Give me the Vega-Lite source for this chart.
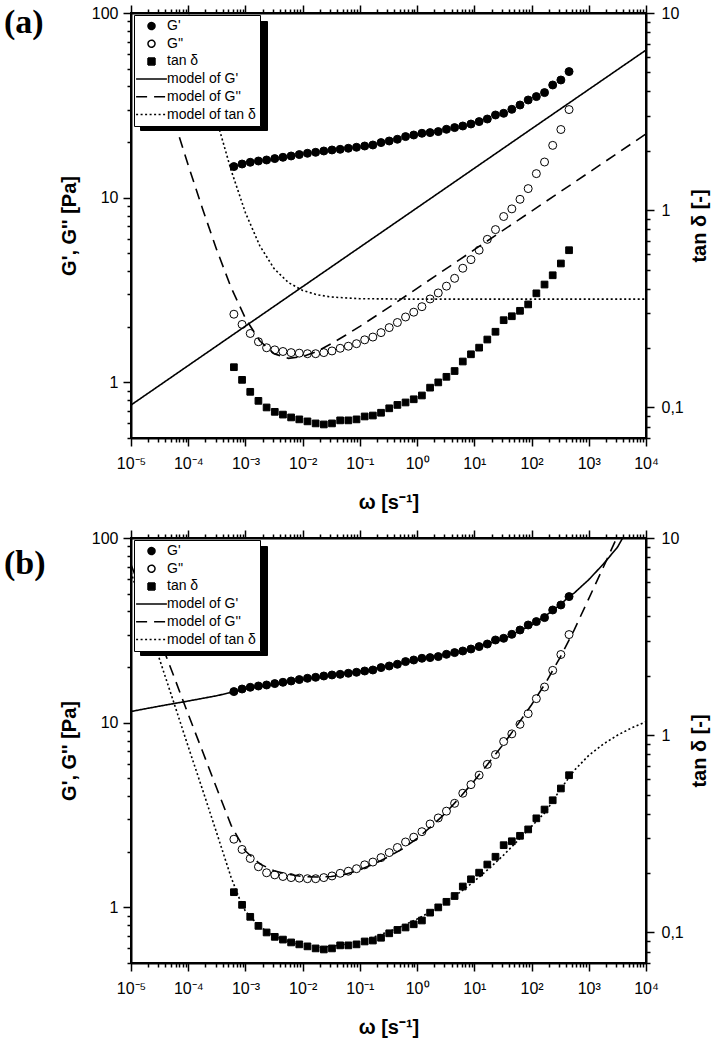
{
  "$schema": "https://vega.github.io/schema/vega-lite/v6.json",
  "padding": {"left": 3, "top": 3, "right": 0, "bottom": 0},
  "spacing": 15,
  "datasets": {
    "meas": [
      {"w": 0.0006283, "G1": 14.74, "G2": 2.34, "T": 0.160},
      {"w": 0.000873, "G1": 15.22, "G2": 2.06, "T": 0.138},
      {"w": 0.001213, "G1": 15.55, "G2": 1.84, "T": 0.120},
      {"w": 0.001686, "G1": 15.80, "G2": 1.66, "T": 0.108},
      {"w": 0.002342, "G1": 16.00, "G2": 1.54, "T": 0.100},
      {"w": 0.003255, "G1": 16.28, "G2": 1.50, "T": 0.095},
      {"w": 0.004522, "G1": 16.55, "G2": 1.47, "T": 0.092},
      {"w": 0.006283, "G1": 16.82, "G2": 1.45, "T": 0.089},
      {"w": 0.00873, "G1": 17.12, "G2": 1.44, "T": 0.087},
      {"w": 0.01213, "G1": 17.40, "G2": 1.43, "T": 0.085},
      {"w": 0.01686, "G1": 17.61, "G2": 1.43, "T": 0.083},
      {"w": 0.02342, "G1": 17.90, "G2": 1.45, "T": 0.082},
      {"w": 0.03255, "G1": 18.13, "G2": 1.48, "T": 0.083},
      {"w": 0.04522, "G1": 18.28, "G2": 1.53, "T": 0.086},
      {"w": 0.06283, "G1": 18.52, "G2": 1.57, "T": 0.086},
      {"w": 0.0873, "G1": 18.75, "G2": 1.62, "T": 0.087},
      {"w": 0.1213, "G1": 19.05, "G2": 1.70, "T": 0.090},
      {"w": 0.1686, "G1": 19.29, "G2": 1.76, "T": 0.091},
      {"w": 0.2342, "G1": 19.88, "G2": 1.86, "T": 0.094},
      {"w": 0.3255, "G1": 20.28, "G2": 1.98, "T": 0.099},
      {"w": 0.4522, "G1": 20.72, "G2": 2.11, "T": 0.103},
      {"w": 0.6283, "G1": 21.42, "G2": 2.26, "T": 0.106},
      {"w": 0.873, "G1": 21.85, "G2": 2.40, "T": 0.110},
      {"w": 1.213, "G1": 22.32, "G2": 2.57, "T": 0.115},
      {"w": 1.686, "G1": 22.51, "G2": 2.83, "T": 0.126},
      {"w": 2.342, "G1": 22.80, "G2": 3.05, "T": 0.134},
      {"w": 3.255, "G1": 23.46, "G2": 3.32, "T": 0.143},
      {"w": 4.522, "G1": 23.96, "G2": 3.66, "T": 0.153},
      {"w": 6.283, "G1": 24.45, "G2": 4.15, "T": 0.171},
      {"w": 8.73, "G1": 25.06, "G2": 4.62, "T": 0.186},
      {"w": 12.13, "G1": 25.82, "G2": 5.20, "T": 0.201},
      {"w": 16.86, "G1": 26.67, "G2": 5.95, "T": 0.221},
      {"w": 23.42, "G1": 28.04, "G2": 6.72, "T": 0.242},
      {"w": 32.55, "G1": 28.64, "G2": 7.91, "T": 0.277},
      {"w": 45.22, "G1": 30.10, "G2": 8.70, "T": 0.290},
      {"w": 62.83, "G1": 31.76, "G2": 9.80, "T": 0.309},
      {"w": 87.3, "G1": 33.81, "G2": 11.2, "T": 0.333},
      {"w": 121.3, "G1": 35.27, "G2": 13.5, "T": 0.379},
      {"w": 168.6, "G1": 37.07, "G2": 15.6, "T": 0.420},
      {"w": 234.2, "G1": 40.76, "G2": 19.2, "T": 0.468},
      {"w": 325.5, "G1": 43.38, "G2": 23.4, "T": 0.537},
      {"w": 452.2, "G1": 48.16, "G2": 30.0, "T": 0.627}
    ],
    "aMG1": [
      {"w": 0.00001, "v": 0.754}, {"w": 0.01, "v": 3.30}, {"w": 1, "v": 8.82}, {"w": 100, "v": 23.6}, {"w": 10000, "v": 63.0}
    ],
    "aMG2": [
      {"w": 0.00001, "v": 145.8}, {"w": 0.00001778, "v": 82.1}, {"w": 0.00003162, "v": 46.4}, {"w": 0.00005623, "v": 26.3},
      {"w": 0.0001, "v": 15.0}, {"w": 0.0001778, "v": 8.71}, {"w": 0.0003162, "v": 5.20}, {"w": 0.0005623, "v": 3.26},
      {"w": 0.001, "v": 2.22}, {"w": 0.001778, "v": 1.68}, {"w": 0.003162, "v": 1.43}, {"w": 0.005623, "v": 1.35},
      {"w": 0.01, "v": 1.38}, {"w": 0.01778, "v": 1.47}, {"w": 0.03162, "v": 1.62}, {"w": 0.05623, "v": 1.80},
      {"w": 0.1, "v": 2.01}, {"w": 0.3162, "v": 2.54}, {"w": 1, "v": 3.23}, {"w": 10, "v": 5.23},
      {"w": 100, "v": 8.46}, {"w": 1000, "v": 13.68}, {"w": 10000, "v": 22.14}
    ],
    "aMT": [
      {"w": 0.00007943, "v": 13.7}, {"w": 0.0001, "v": 10.44}, {"w": 0.0001259, "v": 7.98}, {"w": 0.0001778, "v": 5.37},
      {"w": 0.0003162, "v": 2.85}, {"w": 0.0005623, "v": 1.594}, {"w": 0.001, "v": 0.971}, {"w": 0.001778, "v": 0.661},
      {"w": 0.003162, "v": 0.506}, {"w": 0.005623, "v": 0.430}, {"w": 0.01, "v": 0.392}, {"w": 0.01778, "v": 0.373},
      {"w": 0.03162, "v": 0.363}, {"w": 0.1, "v": 0.356}, {"w": 1, "v": 0.354}, {"w": 10000, "v": 0.354}
    ],
    "bMG1": [
      {"w": 0.00001, "v": 11.5}, {"w": 0.00003162, "v": 12.3}, {"w": 0.0001, "v": 13.1}, {"w": 0.0003162, "v": 14.0},
      {"w": 0.001, "v": 15.2}, {"w": 0.003162, "v": 16.1}, {"w": 0.01, "v": 17.1}, {"w": 0.03162, "v": 18.0},
      {"w": 0.1, "v": 19.0}, {"w": 0.3162, "v": 20.3}, {"w": 1, "v": 21.9}, {"w": 3.162, "v": 23.4},
      {"w": 10, "v": 25.4}, {"w": 31.62, "v": 28.3}, {"w": 100, "v": 33.8}, {"w": 177.8, "v": 38.0},
      {"w": 316.2, "v": 43.5}, {"w": 446.7, "v": 48.0}, {"w": 562.3, "v": 50.5}, {"w": 1000, "v": 59.5},
      {"w": 1778, "v": 72.0}, {"w": 3162, "v": 89.0}, {"w": 3981, "v": 101.0}, {"w": 5623, "v": 122.0}, {"w": 10000, "v": 170.0}
    ],
    "bMG2": [
      {"w": 0.00001, "v": 71.9}, {"w": 0.00001778, "v": 45.1}, {"w": 0.00003162, "v": 28.3}, {"w": 0.00005623, "v": 17.8},
      {"w": 0.0001, "v": 11.1}, {"w": 0.0001778, "v": 7.0}, {"w": 0.0003162, "v": 4.4}, {"w": 0.0005623, "v": 2.78},
      {"w": 0.001, "v": 2.02}, {"w": 0.001778, "v": 1.72}, {"w": 0.003162, "v": 1.58}, {"w": 0.005623, "v": 1.51},
      {"w": 0.01, "v": 1.47}, {"w": 0.01778, "v": 1.46}, {"w": 0.03162, "v": 1.47}, {"w": 0.05623, "v": 1.51},
      {"w": 0.1, "v": 1.60}, {"w": 0.1778, "v": 1.72}, {"w": 0.3162, "v": 1.88}, {"w": 0.5623, "v": 2.08},
      {"w": 1, "v": 2.36}, {"w": 1.778, "v": 2.75}, {"w": 3.162, "v": 3.25}, {"w": 5.623, "v": 3.95},
      {"w": 10, "v": 4.85}, {"w": 17.78, "v": 6.05}, {"w": 31.62, "v": 7.6}, {"w": 56.23, "v": 9.7},
      {"w": 100, "v": 12.5}, {"w": 177.8, "v": 16.5}, {"w": 316.2, "v": 22.6}, {"w": 562.3, "v": 32.0},
      {"w": 1000, "v": 47.0}, {"w": 1778, "v": 69.0}, {"w": 3162, "v": 102.0}, {"w": 5623, "v": 150.0}
    ],
    "bMT": [
      {"w": 0.00001, "v": 6.7}, {"w": 0.00001778, "v": 4.03}, {"w": 0.00003162, "v": 2.42}, {"w": 0.00005623, "v": 1.46},
      {"w": 0.0001, "v": 0.875}, {"w": 0.0001778, "v": 0.53}, {"w": 0.0003162, "v": 0.318}, {"w": 0.0005623, "v": 0.19},
      {"w": 0.0007943, "v": 0.147}, {"w": 0.001, "v": 0.128}, {"w": 0.001778, "v": 0.107}, {"w": 0.003162, "v": 0.096},
      {"w": 0.005623, "v": 0.090}, {"w": 0.01, "v": 0.086}, {"w": 0.01778, "v": 0.084}, {"w": 0.03162, "v": 0.085},
      {"w": 0.05623, "v": 0.087}, {"w": 0.1, "v": 0.090}, {"w": 0.1778, "v": 0.095}, {"w": 0.3162, "v": 0.101},
      {"w": 0.5623, "v": 0.108}, {"w": 1, "v": 0.117}, {"w": 1.778, "v": 0.128}, {"w": 3.162, "v": 0.142},
      {"w": 5.623, "v": 0.160}, {"w": 10, "v": 0.182}, {"w": 17.78, "v": 0.21}, {"w": 31.62, "v": 0.245},
      {"w": 56.23, "v": 0.29}, {"w": 100, "v": 0.345}, {"w": 177.8, "v": 0.41}, {"w": 316.2, "v": 0.53},
      {"w": 562.3, "v": 0.665}, {"w": 1000, "v": 0.79}, {"w": 1778, "v": 0.9}, {"w": 3162, "v": 1.0},
      {"w": 5623, "v": 1.09}, {"w": 10000, "v": 1.17}
    ]
  },
  "resolve": {"scale": {"shape": "independent", "fill": "independent", "strokeDash": "independent", "stroke": "independent", "opacity": "independent"}},
  "vconcat": [
    {
      "title": {"text": "(a)", "anchor": "start", "frame": "group", "dx": -127, "dy": 36, "offset": 0, "font": "Liberation Serif", "fontSize": 34, "fontWeight": "bold", "color": "black"},
      "width": 515, "height": 425,
      "resolve": {"scale": {"y": "independent"}, "axis": {"x": "independent", "y": "independent"}},
      "layer": [
        {
          "data": {"name": "aMG1"},
          "mark": {"type": "line", "clip": true, "strokeWidth": 1.6},
          "encoding": {
            "x": {"field": "w", "type": "quantitative", "scale": {"type": "log", "domain": [0.00001, 10000], "nice": false},
                  "axis": {"orient": "top", "title": null, "labels": false, "tickCount": 20, "tickSize": {"condition": {"test": "abs(log(datum.value)/LN10-round(log(datum.value)/LN10))<0.001", "value": 8}, "value": 4}}},
            "y": {"field": "v", "type": "quantitative", "scale": {"type": "log", "domain": [0.5, 100], "nice": false}, "axis": null},
            "strokeDash": {"datum": "model of G'", "scale": {"domain": ["G'", "G''", "tan δ", "model of G'", "model of G''", "model of tan δ"], "range": [[1, 0], [1, 0], [1, 0], [1, 0], [11, 7], [2, 2.5]]},
                           "legend": {"title": null, "orient": "none", "legendX": 3, "legendY": 2, "zindex": 2, "fillColor": "white", "strokeColor": "black"}},
            "stroke": {"datum": "model of G'", "scale": {"domain": ["G'", "G''", "tan δ", "model of G'", "model of G''", "model of tan δ"], "range": ["black", "black", "black", "black", "black", "black"]},
                       "legend": {"title": null, "orient": "none", "legendX": 3, "legendY": 2, "zindex": 2, "fillColor": "white", "strokeColor": "black"}}
          }
        },
        {
          "data": {"name": "aMG2"},
          "mark": {"type": "line", "clip": true, "strokeWidth": 1.6},
          "encoding": {
            "x": {"field": "w", "type": "quantitative", "scale": {"type": "log", "domain": [0.00001, 10000], "nice": false}, "axis": null},
            "y": {"field": "v", "type": "quantitative", "scale": {"type": "log", "domain": [0.5, 100], "nice": false}, "axis": null},
            "strokeDash": {"datum": "model of G''", "scale": {"domain": ["G'", "G''", "tan δ", "model of G'", "model of G''", "model of tan δ"], "range": [[1, 0], [1, 0], [1, 0], [1, 0], [11, 7], [2, 2.5]]},
                           "legend": {"title": null, "orient": "none", "legendX": 3, "legendY": 2, "zindex": 2, "fillColor": "white", "strokeColor": "black"}},
            "stroke": {"datum": "model of G''", "scale": {"domain": ["G'", "G''", "tan δ", "model of G'", "model of G''", "model of tan δ"], "range": ["black", "black", "black", "black", "black", "black"]},
                       "legend": {"title": null, "orient": "none", "legendX": 3, "legendY": 2, "zindex": 2, "fillColor": "white", "strokeColor": "black"}}
          }
        },
        {
          "data": {"name": "aMT"},
          "mark": {"type": "line", "clip": true, "strokeWidth": 1.6},
          "encoding": {
            "x": {"field": "w", "type": "quantitative", "scale": {"type": "log", "domain": [0.00001, 10000], "nice": false}, "axis": null},
            "y": {"field": "v", "type": "quantitative", "scale": {"type": "log", "domain": [0.07, 10], "nice": false}, "axis": null},
            "strokeDash": {"datum": "model of tan δ", "scale": {"domain": ["G'", "G''", "tan δ", "model of G'", "model of G''", "model of tan δ"], "range": [[1, 0], [1, 0], [1, 0], [1, 0], [11, 7], [2, 2.5]]},
                           "legend": {"title": null, "orient": "none", "legendX": 3, "legendY": 2, "zindex": 2, "fillColor": "white", "strokeColor": "black"}},
            "stroke": {"datum": "model of tan δ", "scale": {"domain": ["G'", "G''", "tan δ", "model of G'", "model of G''", "model of tan δ"], "range": ["black", "black", "black", "black", "black", "black"]},
                       "legend": {"title": null, "orient": "none", "legendX": 3, "legendY": 2, "zindex": 2, "fillColor": "white", "strokeColor": "black"}}
          }
        },
        {
          "data": {"name": "meas"},
          "mark": {"type": "point", "filled": true, "size": 64, "strokeWidth": 1, "opacity": 1, "clip": true},
          "encoding": {
            "x": {"field": "w", "type": "quantitative", "scale": {"type": "log", "domain": [0.00001, 10000], "nice": false},
                  "axis": {"orient": "bottom", "title": "ω [s⁻¹]", "tickCount": 20, "labelPadding": 9, "titlePadding": 21,
                           "labelExpr": "abs(log(datum.value)/LN10-round(log(datum.value)/LN10))<0.001 ? '10' + ['⁻⁵','⁻⁴','⁻³','⁻²','⁻¹','⁰','¹','²','³','⁴'][round(log(datum.value)/LN10)+5] : ''",
                           "tickSize": {"condition": {"test": "abs(log(datum.value)/LN10-round(log(datum.value)/LN10))<0.001", "value": 8}, "value": 4}}},
            "y": {"field": "G1", "type": "quantitative", "scale": {"type": "log", "domain": [0.5, 100], "nice": false},
                  "axis": {"orient": "left", "title": "G', G'' [Pa]", "tickCount": 10, "labelPadding": 5, "titlePadding": 12,
                           "labelExpr": "abs(log(datum.value)/LN10-round(log(datum.value)/LN10))<0.001 ? format(datum.value, '~g') : ''",
                           "tickSize": {"condition": {"test": "abs(log(datum.value)/LN10-round(log(datum.value)/LN10))<0.001", "value": 8}, "value": 4}}},
            "shape": {"datum": "G'", "scale": {"domain": ["G'", "G''", "tan δ", "model of G'", "model of G''", "model of tan δ"], "range": ["circle", "circle", "square", "M-4.4,0H4.4", "M-4.4,0H4.4", "M-4.4,0H4.4"]},
                      "legend": {"title": null, "orient": "none", "legendX": 3, "legendY": 2, "zindex": 2, "fillColor": "white", "strokeColor": "black"}},
            "fill": {"datum": "G'", "scale": {"domain": ["G'", "G''", "tan δ", "model of G'", "model of G''", "model of tan δ"], "range": ["black", "transparent", "black", "transparent", "transparent", "transparent"]},
                     "legend": {"title": null, "orient": "none", "legendX": 3, "legendY": 2, "zindex": 2, "fillColor": "white", "strokeColor": "black"}},
            "stroke": {"datum": "G'", "scale": {"domain": ["G'", "G''", "tan δ", "model of G'", "model of G''", "model of tan δ"], "range": ["black", "black", "black", "black", "black", "black"]},
                       "legend": {"title": null, "orient": "none", "legendX": 3, "legendY": 2, "zindex": 2, "fillColor": "white", "strokeColor": "black"}},
            "opacity": {"datum": "G'", "scale": {"domain": ["model of tan δ", "model of G''", "model of G'", "tan δ", "G''", "G'"], "range": [1, 1, 1, 1, 1, 1]},
                        "legend": {"title": null, "orient": "none", "legendX": 9, "legendY": 8, "zindex": 1, "fillColor": "black", "strokeColor": "black",
                                   "labelExpr": "''", "labelFontSize": 1, "labelOffset": 0, "symbolOffset": 108, "rowPadding": 4.9,
                                   "symbolFillColor": "black", "symbolStrokeColor": "black"}}
          }
        },
        {
          "data": {"name": "meas"},
          "mark": {"type": "point", "filled": true, "size": 64, "strokeWidth": 1, "opacity": 1, "clip": true},
          "encoding": {
            "x": {"field": "w", "type": "quantitative", "scale": {"type": "log", "domain": [0.00001, 10000], "nice": false}, "axis": null},
            "y": {"field": "G2", "type": "quantitative", "scale": {"type": "log", "domain": [0.5, 100], "nice": false}, "axis": null},
            "shape": {"datum": "G''", "scale": {"domain": ["G'", "G''", "tan δ", "model of G'", "model of G''", "model of tan δ"], "range": ["circle", "circle", "square", "M-4.4,0H4.4", "M-4.4,0H4.4", "M-4.4,0H4.4"]},
                      "legend": {"title": null, "orient": "none", "legendX": 3, "legendY": 2, "zindex": 2, "fillColor": "white", "strokeColor": "black"}},
            "fill": {"datum": "G''", "scale": {"domain": ["G'", "G''", "tan δ", "model of G'", "model of G''", "model of tan δ"], "range": ["black", "transparent", "black", "transparent", "transparent", "transparent"]},
                     "legend": {"title": null, "orient": "none", "legendX": 3, "legendY": 2, "zindex": 2, "fillColor": "white", "strokeColor": "black"}},
            "stroke": {"datum": "G''", "scale": {"domain": ["G'", "G''", "tan δ", "model of G'", "model of G''", "model of tan δ"], "range": ["black", "black", "black", "black", "black", "black"]},
                       "legend": {"title": null, "orient": "none", "legendX": 3, "legendY": 2, "zindex": 2, "fillColor": "white", "strokeColor": "black"}}
          }
        },
        {
          "data": {"name": "meas"},
          "mark": {"type": "point", "filled": true, "size": 45, "strokeWidth": 1, "opacity": 1, "clip": true},
          "encoding": {
            "x": {"field": "w", "type": "quantitative", "scale": {"type": "log", "domain": [0.00001, 10000], "nice": false}, "axis": null},
            "y": {"field": "T", "type": "quantitative", "scale": {"type": "log", "domain": [0.07, 10], "nice": false},
                  "axis": {"orient": "right", "title": "tan δ [-]", "titleAngle": 270, "tickCount": 10, "labelPadding": 7, "titlePadding": 26,
                           "labelExpr": "abs(log(datum.value)/LN10-round(log(datum.value)/LN10))<0.001 ? replace(format(datum.value, '~g'), '.', ',') : ''",
                           "tickSize": {"condition": {"test": "abs(log(datum.value)/LN10-round(log(datum.value)/LN10))<0.001", "value": 8}, "value": 4}}},
            "shape": {"datum": "tan δ", "scale": {"domain": ["G'", "G''", "tan δ", "model of G'", "model of G''", "model of tan δ"], "range": ["circle", "circle", "square", "M-4.4,0H4.4", "M-4.4,0H4.4", "M-4.4,0H4.4"]},
                      "legend": {"title": null, "orient": "none", "legendX": 3, "legendY": 2, "zindex": 2, "fillColor": "white", "strokeColor": "black"}},
            "fill": {"datum": "tan δ", "scale": {"domain": ["G'", "G''", "tan δ", "model of G'", "model of G''", "model of tan δ"], "range": ["black", "transparent", "black", "transparent", "transparent", "transparent"]},
                     "legend": {"title": null, "orient": "none", "legendX": 3, "legendY": 2, "zindex": 2, "fillColor": "white", "strokeColor": "black"}},
            "stroke": {"datum": "tan δ", "scale": {"domain": ["G'", "G''", "tan δ", "model of G'", "model of G''", "model of tan δ"], "range": ["black", "black", "black", "black", "black", "black"]},
                       "legend": {"title": null, "orient": "none", "legendX": 3, "legendY": 2, "zindex": 2, "fillColor": "white", "strokeColor": "black"}}
          }
        }
      ]
    },
    {
      "title": {"text": "(b)", "anchor": "start", "frame": "group", "dx": -127, "dy": 52, "offset": 0, "font": "Liberation Serif", "fontSize": 34, "fontWeight": "bold", "color": "black"},
      "width": 515, "height": 425,
      "resolve": {"scale": {"y": "independent"}, "axis": {"x": "independent", "y": "independent"}},
      "layer": [
        {
          "data": {"name": "bMG1"},
          "mark": {"type": "line", "clip": true, "strokeWidth": 1.6},
          "encoding": {
            "x": {"field": "w", "type": "quantitative", "scale": {"type": "log", "domain": [0.00001, 10000], "nice": false},
                  "axis": {"orient": "top", "title": null, "labels": false, "tickCount": 20, "tickSize": {"condition": {"test": "abs(log(datum.value)/LN10-round(log(datum.value)/LN10))<0.001", "value": 8}, "value": 4}}},
            "y": {"field": "v", "type": "quantitative", "scale": {"type": "log", "domain": [0.5, 100], "nice": false}, "axis": null},
            "strokeDash": {"datum": "model of G'", "scale": {"domain": ["G'", "G''", "tan δ", "model of G'", "model of G''", "model of tan δ"], "range": [[1, 0], [1, 0], [1, 0], [1, 0], [11, 7], [2, 2.5]]},
                           "legend": {"title": null, "orient": "none", "legendX": 3, "legendY": 2, "zindex": 2, "fillColor": "white", "strokeColor": "black"}},
            "stroke": {"datum": "model of G'", "scale": {"domain": ["G'", "G''", "tan δ", "model of G'", "model of G''", "model of tan δ"], "range": ["black", "black", "black", "black", "black", "black"]},
                       "legend": {"title": null, "orient": "none", "legendX": 3, "legendY": 2, "zindex": 2, "fillColor": "white", "strokeColor": "black"}}
          }
        },
        {
          "data": {"name": "bMG2"},
          "mark": {"type": "line", "clip": true, "strokeWidth": 1.6},
          "encoding": {
            "x": {"field": "w", "type": "quantitative", "scale": {"type": "log", "domain": [0.00001, 10000], "nice": false}, "axis": null},
            "y": {"field": "v", "type": "quantitative", "scale": {"type": "log", "domain": [0.5, 100], "nice": false}, "axis": null},
            "strokeDash": {"datum": "model of G''", "scale": {"domain": ["G'", "G''", "tan δ", "model of G'", "model of G''", "model of tan δ"], "range": [[1, 0], [1, 0], [1, 0], [1, 0], [11, 7], [2, 2.5]]},
                           "legend": {"title": null, "orient": "none", "legendX": 3, "legendY": 2, "zindex": 2, "fillColor": "white", "strokeColor": "black"}},
            "stroke": {"datum": "model of G''", "scale": {"domain": ["G'", "G''", "tan δ", "model of G'", "model of G''", "model of tan δ"], "range": ["black", "black", "black", "black", "black", "black"]},
                       "legend": {"title": null, "orient": "none", "legendX": 3, "legendY": 2, "zindex": 2, "fillColor": "white", "strokeColor": "black"}}
          }
        },
        {
          "data": {"name": "bMT"},
          "mark": {"type": "line", "clip": true, "strokeWidth": 1.6},
          "encoding": {
            "x": {"field": "w", "type": "quantitative", "scale": {"type": "log", "domain": [0.00001, 10000], "nice": false}, "axis": null},
            "y": {"field": "v", "type": "quantitative", "scale": {"type": "log", "domain": [0.07, 10], "nice": false}, "axis": null},
            "strokeDash": {"datum": "model of tan δ", "scale": {"domain": ["G'", "G''", "tan δ", "model of G'", "model of G''", "model of tan δ"], "range": [[1, 0], [1, 0], [1, 0], [1, 0], [11, 7], [2, 2.5]]},
                           "legend": {"title": null, "orient": "none", "legendX": 3, "legendY": 2, "zindex": 2, "fillColor": "white", "strokeColor": "black"}},
            "stroke": {"datum": "model of tan δ", "scale": {"domain": ["G'", "G''", "tan δ", "model of G'", "model of G''", "model of tan δ"], "range": ["black", "black", "black", "black", "black", "black"]},
                       "legend": {"title": null, "orient": "none", "legendX": 3, "legendY": 2, "zindex": 2, "fillColor": "white", "strokeColor": "black"}}
          }
        },
        {
          "data": {"name": "meas"},
          "mark": {"type": "point", "filled": true, "size": 64, "strokeWidth": 1, "opacity": 1, "clip": true},
          "encoding": {
            "x": {"field": "w", "type": "quantitative", "scale": {"type": "log", "domain": [0.00001, 10000], "nice": false},
                  "axis": {"orient": "bottom", "title": "ω [s⁻¹]", "tickCount": 20, "labelPadding": 9, "titlePadding": 21,
                           "labelExpr": "abs(log(datum.value)/LN10-round(log(datum.value)/LN10))<0.001 ? '10' + ['⁻⁵','⁻⁴','⁻³','⁻²','⁻¹','⁰','¹','²','³','⁴'][round(log(datum.value)/LN10)+5] : ''",
                           "tickSize": {"condition": {"test": "abs(log(datum.value)/LN10-round(log(datum.value)/LN10))<0.001", "value": 8}, "value": 4}}},
            "y": {"field": "G1", "type": "quantitative", "scale": {"type": "log", "domain": [0.5, 100], "nice": false},
                  "axis": {"orient": "left", "title": "G', G'' [Pa]", "tickCount": 10, "labelPadding": 5, "titlePadding": 12,
                           "labelExpr": "abs(log(datum.value)/LN10-round(log(datum.value)/LN10))<0.001 ? format(datum.value, '~g') : ''",
                           "tickSize": {"condition": {"test": "abs(log(datum.value)/LN10-round(log(datum.value)/LN10))<0.001", "value": 8}, "value": 4}}},
            "shape": {"datum": "G'", "scale": {"domain": ["G'", "G''", "tan δ", "model of G'", "model of G''", "model of tan δ"], "range": ["circle", "circle", "square", "M-4.4,0H4.4", "M-4.4,0H4.4", "M-4.4,0H4.4"]},
                      "legend": {"title": null, "orient": "none", "legendX": 3, "legendY": 2, "zindex": 2, "fillColor": "white", "strokeColor": "black"}},
            "fill": {"datum": "G'", "scale": {"domain": ["G'", "G''", "tan δ", "model of G'", "model of G''", "model of tan δ"], "range": ["black", "transparent", "black", "transparent", "transparent", "transparent"]},
                     "legend": {"title": null, "orient": "none", "legendX": 3, "legendY": 2, "zindex": 2, "fillColor": "white", "strokeColor": "black"}},
            "stroke": {"datum": "G'", "scale": {"domain": ["G'", "G''", "tan δ", "model of G'", "model of G''", "model of tan δ"], "range": ["black", "black", "black", "black", "black", "black"]},
                       "legend": {"title": null, "orient": "none", "legendX": 3, "legendY": 2, "zindex": 2, "fillColor": "white", "strokeColor": "black"}},
            "opacity": {"datum": "G'", "scale": {"domain": ["model of tan δ", "model of G''", "model of G'", "tan δ", "G''", "G'"], "range": [1, 1, 1, 1, 1, 1]},
                        "legend": {"title": null, "orient": "none", "legendX": 9, "legendY": 8, "zindex": 1, "fillColor": "black", "strokeColor": "black",
                                   "labelExpr": "''", "labelFontSize": 1, "labelOffset": 0, "symbolOffset": 108, "rowPadding": 4.9,
                                   "symbolFillColor": "black", "symbolStrokeColor": "black"}}
          }
        },
        {
          "data": {"name": "meas"},
          "mark": {"type": "point", "filled": true, "size": 64, "strokeWidth": 1, "opacity": 1, "clip": true},
          "encoding": {
            "x": {"field": "w", "type": "quantitative", "scale": {"type": "log", "domain": [0.00001, 10000], "nice": false}, "axis": null},
            "y": {"field": "G2", "type": "quantitative", "scale": {"type": "log", "domain": [0.5, 100], "nice": false}, "axis": null},
            "shape": {"datum": "G''", "scale": {"domain": ["G'", "G''", "tan δ", "model of G'", "model of G''", "model of tan δ"], "range": ["circle", "circle", "square", "M-4.4,0H4.4", "M-4.4,0H4.4", "M-4.4,0H4.4"]},
                      "legend": {"title": null, "orient": "none", "legendX": 3, "legendY": 2, "zindex": 2, "fillColor": "white", "strokeColor": "black"}},
            "fill": {"datum": "G''", "scale": {"domain": ["G'", "G''", "tan δ", "model of G'", "model of G''", "model of tan δ"], "range": ["black", "transparent", "black", "transparent", "transparent", "transparent"]},
                     "legend": {"title": null, "orient": "none", "legendX": 3, "legendY": 2, "zindex": 2, "fillColor": "white", "strokeColor": "black"}},
            "stroke": {"datum": "G''", "scale": {"domain": ["G'", "G''", "tan δ", "model of G'", "model of G''", "model of tan δ"], "range": ["black", "black", "black", "black", "black", "black"]},
                       "legend": {"title": null, "orient": "none", "legendX": 3, "legendY": 2, "zindex": 2, "fillColor": "white", "strokeColor": "black"}}
          }
        },
        {
          "data": {"name": "meas"},
          "mark": {"type": "point", "filled": true, "size": 45, "strokeWidth": 1, "opacity": 1, "clip": true},
          "encoding": {
            "x": {"field": "w", "type": "quantitative", "scale": {"type": "log", "domain": [0.00001, 10000], "nice": false}, "axis": null},
            "y": {"field": "T", "type": "quantitative", "scale": {"type": "log", "domain": [0.07, 10], "nice": false},
                  "axis": {"orient": "right", "title": "tan δ [-]", "titleAngle": 270, "tickCount": 10, "labelPadding": 7, "titlePadding": 26,
                           "labelExpr": "abs(log(datum.value)/LN10-round(log(datum.value)/LN10))<0.001 ? replace(format(datum.value, '~g'), '.', ',') : ''",
                           "tickSize": {"condition": {"test": "abs(log(datum.value)/LN10-round(log(datum.value)/LN10))<0.001", "value": 8}, "value": 4}}},
            "shape": {"datum": "tan δ", "scale": {"domain": ["G'", "G''", "tan δ", "model of G'", "model of G''", "model of tan δ"], "range": ["circle", "circle", "square", "M-4.4,0H4.4", "M-4.4,0H4.4", "M-4.4,0H4.4"]},
                      "legend": {"title": null, "orient": "none", "legendX": 3, "legendY": 2, "zindex": 2, "fillColor": "white", "strokeColor": "black"}},
            "fill": {"datum": "tan δ", "scale": {"domain": ["G'", "G''", "tan δ", "model of G'", "model of G''", "model of tan δ"], "range": ["black", "transparent", "black", "transparent", "transparent", "transparent"]},
                     "legend": {"title": null, "orient": "none", "legendX": 3, "legendY": 2, "zindex": 2, "fillColor": "white", "strokeColor": "black"}},
            "stroke": {"datum": "tan δ", "scale": {"domain": ["G'", "G''", "tan δ", "model of G'", "model of G''", "model of tan δ"], "range": ["black", "black", "black", "black", "black", "black"]},
                       "legend": {"title": null, "orient": "none", "legendX": 3, "legendY": 2, "zindex": 2, "fillColor": "white", "strokeColor": "black"}}
          }
        }
      ]
    }
  ],
  "config": {
    "view": {"stroke": "black", "strokeWidth": 2},
    "font": "Liberation Sans",
    "axis": {"grid": false, "domainColor": "black", "domainWidth": 2, "tickColor": "black", "tickWidth": 1.5,
             "labelColor": "black", "labelFont": "Liberation Sans", "labelFontSize": 16,
             "titleFont": "Liberation Sans", "titleFontSize": 20, "titleFontWeight": "bold", "titleColor": "black",
             "labelFlush": false, "labelOverlap": false},
    "legend": {"labelFont": "Liberation Sans", "labelFontSize": 14, "labelColor": "black", "padding": 4, "rowPadding": 3.7,
               "symbolSize": 49, "symbolStrokeWidth": 1.5, "symbolStrokeColor": "black", "symbolOffset": 6.5, "labelOffset": 8.5,
               "cornerRadius": 0}
  }
}
